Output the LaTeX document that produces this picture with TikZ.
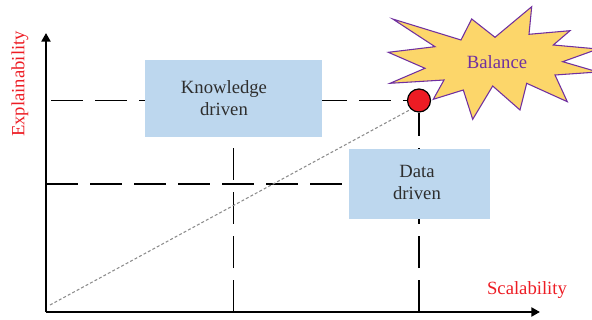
\documentclass[tikz,border=0pt]{standalone}
\usepackage{fontspec}
\setmainfont{Liberation Serif}
\usetikzlibrary{arrows.meta,backgrounds}
\definecolor{boxblue}{HTML}{BDD7EE}
\definecolor{axisred}{HTML}{ED1C24}
\definecolor{starfill}{HTML}{FCD66A}
\definecolor{starline}{HTML}{7030A0}
\definecolor{textgray}{HTML}{2E2E2E}
\definecolor{dotgray}{HTML}{8C8C8C}
\tikzset{
  axisline/.style={line width=1.5pt,-{Triangle[length=6.5pt,width=6.8pt]}},
  guideline/.style={line width=0.95pt,black,dash pattern=on 24pt off 9pt},
  trendline/.style={line width=0.8pt,dotgray,dash pattern=on 2.2pt off 1.6pt},
  approachbox/.style={fill=boxblue,draw=none,inner sep=0pt},
  boxtext/.style={text=textgray,align=center,inner sep=0pt,font=\fontsize{14}{17}\selectfont},
  axislabel/.style={text=axisred,inner sep=0pt,font=\fontsize{14}{17}\selectfont},
  balancept/.style={circle,fill=axisred,draw=black,line width=0.9pt,minimum size=17.25pt,inner sep=0pt},
}
\begin{document}
\begin{tikzpicture}[x=0.75pt,y=-0.75pt]
\useasboundingbox (0,0) rectangle (592,320);

% axes
\coordinate (O) at (46,312);
\coordinate (ytip) at (46,33);
\coordinate (xtip) at (540,312);
\draw[axisline] (O) -- (ytip);
\draw[axisline] (O) -- (xtip);

% the two approaches and the balance point
\node[approachbox,minimum width=132.75pt,minimum height=57.75pt] (know) at (233.5,98.5) {};
\node[boxtext] (knowtext) at (224,98) {Knowledge\\driven};
\node[approachbox,minimum width=105.75pt,minimum height=52.5pt] (data) at (419.5,184) {};
\node[boxtext] (datatext) at (417,182.5) {Data\\driven};
\node[balancept] (pt) at (419,100.5) {};

% guide lines behind the boxes
\coordinate (hstart) at (51,100.5);
\coordinate (ymid) at (46,184);
\coordinate (trendstart) at (50,305);
\begin{scope}[on background layer]
  \draw[guideline] (hstart) -- (pt.west);
  \draw[guideline] (ymid) -- (data.west);
  \draw[guideline] (know.south |- O) -- (know.center);
  \draw[guideline] (pt |- O) -- (pt.south);
\end{scope}
\draw[trendline] (trendstart) -- (pt.227);

% explosion around the label
\draw[starline,fill=starfill,line width=0.8pt,line join=miter]
  (392.7,19) -- (461,40) -- (471.7,19) -- (495,37.3) -- (531.7,6.7)
  -- (529,34.3) -- (570,30.7) -- (553.3,45) -- (598,49) -- (562.7,61.7)
  -- (598,72) -- (555,75) -- (567.3,101.7) -- (526.7,83.3) -- (520,110)
  -- (492.7,86) -- (472.7,119.3) -- (463.3,90) -- (433.3,99.3) -- (444,80)
  -- (390,83.3) -- (425,68.3) -- (388.3,52.3) -- (435,46.7) -- cycle;
\node[text=starline,inner sep=0pt,font=\fontsize{14}{17}\selectfont] (balance) at (497,62) {Balance};

% axis labels
\node[axislabel,rotate=90] (ylabel) at (20,84) {Explainability};
\node[axislabel] (xlabel) at (527,290) {Scalability};
\end{tikzpicture}
\end{document}
